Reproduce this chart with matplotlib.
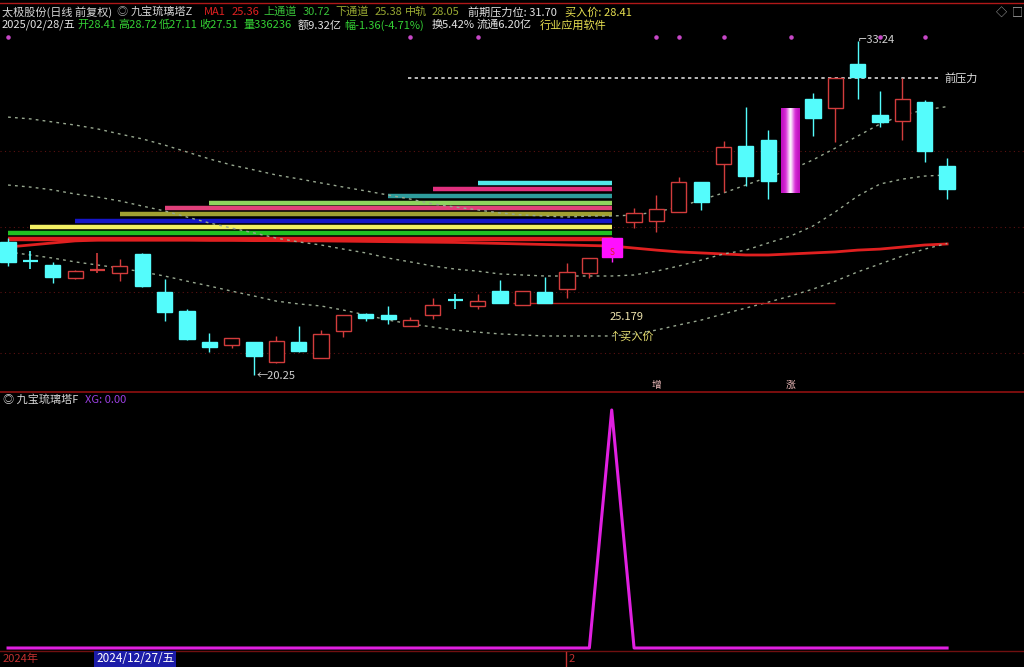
import numpy as np
import matplotlib.pyplot as plt
from matplotlib.patches import Rectangle
from matplotlib.colors import LinearSegmentedColormap
import matplotlib.transforms as mtransforms

plt.rcParams['font.family'] = ['Noto Sans CJK SC', 'DejaVu Sans']

# daily candles (index 0 = first visible bar, 42 = 2025/02/28)
opens = [25.44, 24.70, 24.54, 24.03, 24.33, 24.23, 24.97, 23.49, 22.74, 21.53,
         21.42, 21.53, 20.75, 21.53, 20.91, 21.96, 22.63, 22.59, 22.16, 22.59,
         23.19, 22.94, 23.52, 22.98, 23.49, 23.60, 24.23, 24.85, 26.22, 26.26,
         26.61, 27.78, 28.48, 29.18, 29.42, 27.35, 31.01, 30.66, 32.38, 30.39,
         30.16, 30.90, 28.41]
highs = [25.59, 25.09, 24.66, 24.33, 25.01, 24.77, 25.00, 23.99, 22.82, 21.89,
         21.70, 21.55, 21.77, 22.16, 22.00, 22.60, 22.67, 22.94, 22.51, 23.25,
         23.41, 23.41, 23.95, 23.53, 24.07, 24.62, 24.82, 25.62, 26.76, 27.27,
         27.97, 27.79, 29.38, 30.70, 29.81, 30.63, 31.25, 31.85, 33.28, 31.33,
         31.84, 30.98, 28.72]
lows = [24.50, 24.38, 23.84, 24.01, 24.23, 23.91, 23.70, 22.35, 21.63, 21.14,
        21.30, 20.25, 20.73, 21.16, 20.90, 21.73, 22.35, 22.24, 22.15, 22.43,
        22.82, 22.82, 23.05, 22.97, 23.05, 23.25, 24.03, 24.66, 25.98, 25.83,
        26.60, 26.69, 27.39, 27.62, 27.11, 27.35, 29.57, 29.34, 31.02, 29.92,
        29.42, 28.56, 27.11]
closes = [24.66, 24.68, 24.07, 24.31, 24.36, 24.50, 23.72, 22.70, 21.65, 21.34,
          21.69, 20.99, 21.57, 21.18, 21.85, 22.59, 22.47, 22.43, 22.39, 22.98,
          23.15, 23.13, 23.06, 23.52, 23.06, 24.27, 24.81, 25.59, 26.57, 26.72,
          27.78, 26.99, 29.14, 28.01, 27.82, 30.63, 30.27, 31.84, 31.87, 30.12,
          31.01, 28.99, 27.51]

ma1 = [25.24, 25.32, 25.40, 25.48, 25.51, 25.51, 25.51, 25.51, 25.51, 25.50,
       25.50, 25.49, 25.49, 25.48, 25.48, 25.47, 25.46, 25.45, 25.44, 25.43,
       25.42, 25.40, 25.38, 25.36, 25.34, 25.32, 25.30, 25.28, 25.20, 25.12,
       25.05, 25.01, 24.97, 24.93, 24.93, 24.97, 25.01, 25.05, 25.12, 25.16,
       25.24, 25.32, 25.36]
upper = [30.31, 30.24, 30.12, 30.00, 29.85, 29.65, 29.46, 29.22, 28.95, 28.68,
         28.44, 28.25, 28.05, 27.90, 27.74, 27.58, 27.43, 27.27, 27.11, 26.92,
         26.80, 26.69, 26.57, 26.49, 26.45, 26.41, 26.45, 26.45, 26.49, 26.61,
         26.80, 27.08, 27.35, 27.66, 27.97, 28.25, 28.64, 29.10, 29.57, 30.04,
         30.39, 30.59, 30.72]
middle = [27.66, 27.58, 27.47, 27.31, 27.19, 27.04, 26.84, 26.65, 26.41, 26.18,
          25.98, 25.79, 25.59, 25.44, 25.32, 25.16, 25.01, 24.81, 24.66, 24.50,
          24.38, 24.30, 24.19, 24.15, 24.11, 24.11, 24.11, 24.11, 24.15, 24.30,
          24.50, 24.73, 24.97, 25.12, 25.40, 25.67, 26.06, 26.61, 27.23, 27.70,
          27.89, 28.01, 28.05]
lower = [25.05, 24.93, 24.81, 24.66, 24.54, 24.42, 24.27, 24.11, 23.91, 23.72,
         23.52, 23.33, 23.13, 23.02, 22.94, 22.78, 22.59, 22.39, 22.24, 22.12,
         22.00, 21.92, 21.85, 21.81, 21.77, 21.77, 21.77, 21.77, 21.85, 22.00,
         22.20, 22.39, 22.63, 22.86, 23.09, 23.33, 23.60, 23.91, 24.27, 24.58,
         24.89, 25.16, 25.38]
xg = [0, 0, 0, 0, 0, 0, 0, 0, 0, 0, 0, 0, 0, 0, 0, 0, 0, 0, 0, 0, 0,
      0, 0, 0, 0, 0, 0, 1, 0, 0, 0, 0, 0, 0, 0, 0, 0, 0, 0, 0, 0, 0, 0]

# "tower" levels, start bar, colour (all end at the signal bar)
tower_levels = [25.55, 25.79, 26.02, 26.26, 26.53, 26.76, 26.96, 27.23, 27.50, 27.74]
tower_start = [0, 0, 1, 3, 5, 7, 9, 17, 19, 21]
tower_colors = ['#e02020', '#22c022', '#f2f064', '#1616c8', '#a0a032',
                '#e0407a', '#8ed45e', '#2e9c9c', '#e0307e', '#52e8e8']
tower_end = 27

pressure_level = 31.84
pressure_start, pressure_end = 17.9, 41.7
support_level = 23.06
support_start, support_end = 22.6, 37.0
support_label = '25.179'
signal_dots = [0, 18, 21, 29, 30, 32, 35, 39, 41]
grid_levels = [28.99, 26.02, 23.49, 21.11]
month_marks = ['增', '涨']
month_mark_idx = [29, 35]

n = len(opens)
RED = '#d23c3c'
CYAN = '#54fcfc'

fig = plt.figure(figsize=(10.24, 6.67), dpi=100, facecolor='black')
ax = fig.add_axes([0, 1 - 392 / 667, 1, 389 / 667])
ax2 = fig.add_axes([0, 1 - 652 / 667, 1, 260 / 667])
for a in (ax, ax2):
    a.set_facecolor('black')
    a.set_xticks([])
    a.set_yticks([])
    for s in a.spines.values():
        s.set_visible(False)
    a.set_xlim(-0.36, 45.44)
ax.set_ylim(19.584, 34.762)
ax2.set_ylim(-0.0168, 1.0756)

# grid
for g in grid_levels:
    ax.axhline(g, color='#5a1212', lw=0.8, ls=(0, (1, 3)), zorder=1)

# tower bars
for lv, st, col in zip(tower_levels, tower_start, tower_colors):
    ax.hlines(lv, st, tower_end, color=col, lw=3.2, zorder=2)

x = np.arange(n)
ax.plot(x, ma1, color='#e02020', lw=2, zorder=3)
for line in (upper, middle, lower):
    ax.plot(x, line, color='#98a890', lw=1, ls=(0, (2, 3)), zorder=3)

ax.hlines(pressure_level, pressure_start, pressure_end, color='#d8d8d8',
          lw=1.2, ls=(0, (2, 2)), zorder=3)
ax.text(pressure_end + 0.2, pressure_level, '前压力', color='#e0e0e0',
        fontsize=8, va='center', ha='left')
ax.hlines(support_level, support_start, support_end, color='#c02020', lw=1, zorder=3)
ax.annotate(support_label, xy=(26.9, support_level), xytext=(0, -10),
            textcoords='offset points', color='#f0e6b0', fontsize=8,
            va='center', ha='left')
ax.text(26.9, lower[27], '↑买入价', color='#e8e070', fontsize=8,
        va='center', ha='left', zorder=6)

# candles
W = 0.68
grad = LinearSegmentedColormap.from_list('g', ['#c010c0', '#d830d8', '#f0a0f0', '#ffffff'])
for i in range(n):
    o, h, l, c = opens[i], highs[i], lows[i], closes[i]
    lo, hi = min(o, c), max(o, c)
    if i == 27:
        ax.vlines(i, l, h, color='#ff20ff', lw=1, zorder=5)
        ax.add_patch(Rectangle((i - 0.45, lo), 0.9, hi - lo, facecolor='#ff10ff',
                               edgecolor='#ff10ff', zorder=6))
        ax.text(i, (lo + hi) / 2 - 0.2, 'S', color='#e02020', fontsize=6,
                ha='center', va='center', zorder=7)
    elif i == 35:
        g = (1 - np.abs(np.linspace(-1, 1, 64))) ** 1.6
        ax.imshow(g[None, :], cmap=grad, aspect='auto', interpolation='bicubic',
                  extent=(i - 0.42, i + 0.42, lo, hi), zorder=6)
    elif abs(c - o) < 0.05:
        col = RED if c >= o else CYAN
        ax.vlines(i, l, h, color=col, lw=1.2, zorder=5)
        ax.hlines((o + c) / 2, i - W / 2, i + W / 2, color=col, lw=1.6, zorder=5)
    elif c > o:
        ax.vlines(i, l, lo, color=RED, lw=1, zorder=5)
        ax.vlines(i, hi, h, color=RED, lw=1, zorder=5)
        ax.add_patch(Rectangle((i - W / 2, lo), W, hi - lo, facecolor='black',
                               edgecolor=RED, lw=1, zorder=6))
    else:
        ax.vlines(i, l, h, color=CYAN, lw=1, zorder=5)
        ax.add_patch(Rectangle((i - W / 2, lo), W, hi - lo, facecolor=CYAN,
                               edgecolor=CYAN, lw=1, zorder=6))
ax.set_xlim(-0.36, 45.44)
ax.set_ylim(19.584, 34.762)

ax.annotate('←20.25', xy=(11, lows[11]), xytext=(2, -1), textcoords='offset points',
            color='#d0d0d0', fontsize=8, va='center', ha='left')
ax.annotate('⌐33.24', xy=(38, highs[38]), xytext=(0, 1), textcoords='offset points',
            color='#d0d0d0', fontsize=8, va='center', ha='left')

trans = mtransforms.blended_transform_factory(ax.transData, ax.transAxes)
ax.scatter(signal_dots, [0.9126] * len(signal_dots), s=5, color='#c848c8',
           transform=trans, zorder=4)
for s, idx in zip(month_marks, month_mark_idx):
    ax.text(idx, 0.018, s, transform=trans, color='#f4c0c0', fontsize=7,
            ha='center', va='center')

# lower panel
ax2.plot(x, xg, color='#e020e0', lw=2.2)


def T(px, py, s, color, **kw):
    kw.setdefault('fontsize', 8)
    fig.text(px / 1024, 1 - py / 667, s, color=color,
             va='center', ha='left', **kw)


# frame lines
fig.add_artist(plt.Line2D([0, 1], [1 - 3 / 667] * 2, color='#b01818', lw=1))
fig.add_artist(plt.Line2D([0, 1], [1 - 392 / 667] * 2, color='#901010', lw=1.2))
fig.add_artist(plt.Line2D([0, 1], [1 - 651 / 667] * 2, color='#701010', lw=1))
fig.add_artist(plt.Line2D([566 / 1024] * 2, [1 - 652 / 667, 1 - 666 / 667],
                          color='#c03030', lw=1))

head1 = [(2, '太极股份(日线 前复权)', '#d8d8d8'), (116, '◎', '#a0a0a0'),
         (131, '九宝琉璃塔Z', '#d8d8d8'), (204, 'MA1', '#e02020'),
         (232, '25.36', '#e02020'), (263, '上通道', '#38c038'),
         (303, '30.72', '#38c038'), (335, '下通道', '#98a832'),
         (375, '25.38', '#98a832'), (405, '中轨', '#98a832'),
         (432, '28.05', '#98a832'), (468, '前期压力位: 31.70', '#e4e4e4'),
         (565, '买入价: 28.41', '#e8e050')]
head2 = [(2, '2025/02/28/五', '#e4e4e4'), (77, '开28.41', '#34d034'),
         (118, '高28.72', '#34d034'), (159, '低27.11', '#34d034'),
         (199, '收27.51', '#34d034'), (243, '量336236', '#34d034'),
         (298, '额9.32亿', '#e4e4e4'), (344, '幅-1.36(-4.71%)', '#34d034'),
         (432, '换5.42%', '#e4e4e4'), (477, '流通6.20亿', '#e4e4e4'),
         (540, '行业应用软件', '#e8e050')]
for px, s, col in head1:
    T(px, 12, s, col)
for px, s, col in head2:
    T(px, 25, s, col)
T(996, 12, '◇', '#b0b0b0')
T(1012, 12, '□', '#b0b0b0')

T(3, 400, '◎ 九宝琉璃塔F', '#d8d8d8')
T(85, 400, 'XG: 0.00', '#9a40e0')

T(3, 659, '2024年', '#c03030')
T(96, 659, '2024/12/27/五', '#ffffff', fontsize=8.5,
  bbox=dict(boxstyle='square,pad=0.15', facecolor='#1c1ca8', edgecolor='none'))
T(569, 659, '2', '#c03030')

fig.savefig('out.png', dpi=100, facecolor='black')
